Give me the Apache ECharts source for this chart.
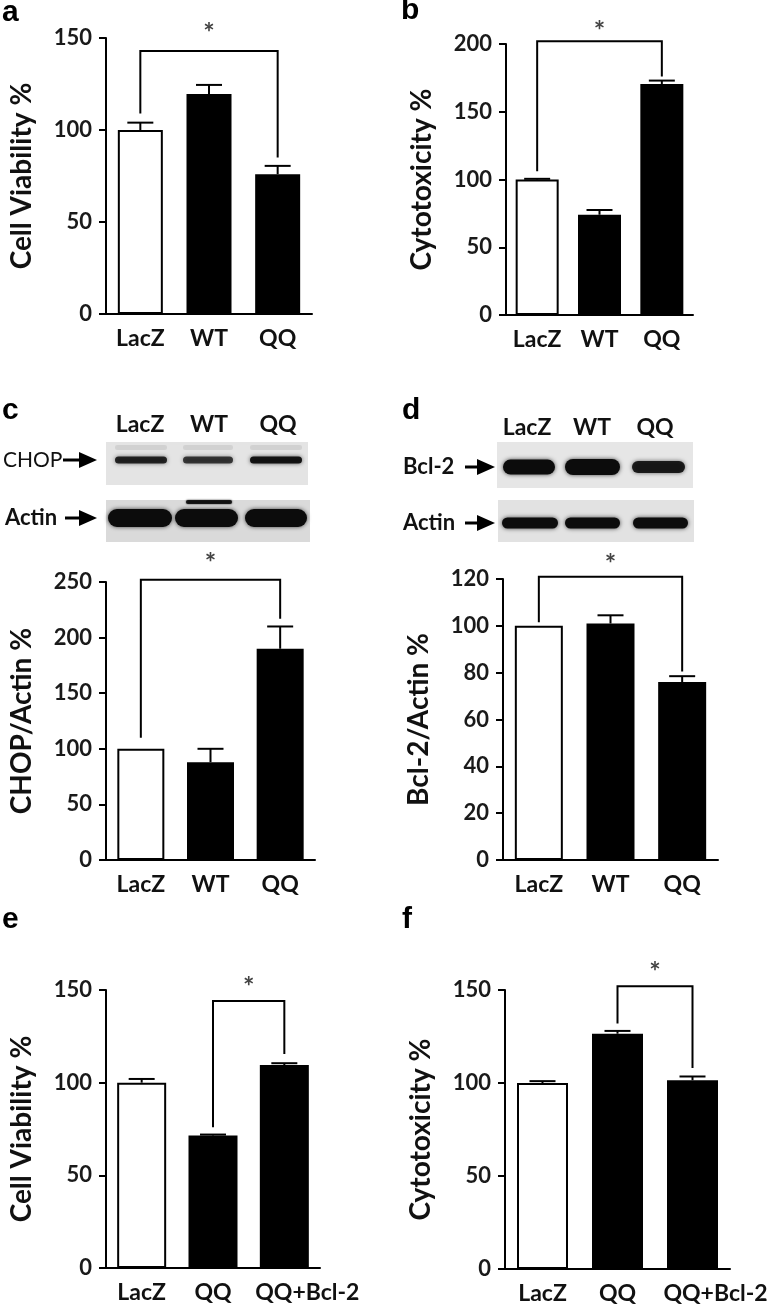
<!DOCTYPE html>
<html>
<head>
<meta charset="utf-8">
<script src="https://cdn.jsdelivr.net/npm/echarts@6/dist/echarts.min.js"></script>
<style>
  html, body { margin: 0; padding: 0; background: #fff; }
  #chart { width: 779px; height: 1316px; }
</style>
</head>
<body>
<div id="chart"></div>
<script>
// categories
const groups3 = ["LacZ", "WT", "QQ"];
const groupsBcl = ["LacZ", "QQ", "QQ+Bcl-2"];

// bar values (mean) and upper error (SEM)
const viabilityA = [100, 119.5, 76];
const viabilityAErr = [4, 5, 4.5];
const cytotoxB = [100, 74, 170.5];
const cytotoxBErr = [0.5, 3.5, 2.5];
const chopActinC = [100, 88, 190];
const chopActinCErr = [0, 12, 20];
const bclActinD = [100, 101, 76];
const bclActinDErr = [0, 3.5, 2.5];
const viabilityE = [100, 71.5, 109.5];
const viabilityEErr = [2, 0.5, 1];
const cytotoxF = [100, 126.5, 101.5];
const cytotoxFErr = [1, 1.5, 2];

// significance brackets: [from, to, top, left leg end, right leg end]
const sigA = [0, 2, 143, 109, 85];
const sigB = [0, 2, 202, 106, 176];
const sigC = [0, 2, 252, 110, 217];
const sigD = [0, 2, 121, 101.5, 80.5];
const sigE = [1, 2, 144, 76, 115.5];
const sigF = [1, 2, 152, 132, 108];

// y axis ticks: [min, max, interval]
const ticksA = [0, 150, 50];
const ticksB = [0, 200, 50];
const ticksC = [0, 250, 50];
const ticksD = [0, 120, 20];
const ticksE = [0, 150, 50];
const ticksF = [0, 150, 50];

// western blot band density per lane
const chopBand = [0.85, 0.75, 0.95];
const actinBandC = [1, 1, 1];
const bclBand = [1, 1, 0.9];
const actinBandD = [1, 1, 1];

const FONT = "Lato";

const panels = [
  { label: "a", cats: groups3, vals: viabilityA, err: viabilityAErr, sig: sigA, ticks: ticksA,
    name: "Cell Viability %", grid: [106, 38, 206, 276], barWidth: 45, starGap: 18 },
  { label: "b", cats: groups3, vals: cytotoxB, err: cytotoxBErr, sig: sigB, ticks: ticksB,
    name: "Cytotoxicity %", grid: [506, 44, 187, 271], barWidth: 43, starGap: 10 },
  { label: "c", cats: groups3, vals: chopActinC, err: chopActinCErr, sig: sigC, ticks: ticksC,
    name: "CHOP/Actin %", grid: [106, 582, 209, 278], barWidth: 47, starGap: 16 },
  { label: "d", cats: groups3, vals: bclActinD, err: bclActinDErr, sig: sigD, ticks: ticksD,
    name: "Bcl-2/Actin %", grid: [503, 579, 215, 281], barWidth: 48, starGap: 12 },
  { label: "e", cats: groupsBcl, vals: viabilityE, err: viabilityEErr, sig: sigE, ticks: ticksE,
    name: "Cell Viability %", grid: [106, 990, 214, 278], barWidth: 49, starGap: 14 },
  { label: "f", cats: groupsBcl, vals: cytotoxF, err: cytotoxFErr, sig: sigF, ticks: ticksF,
    name: "Cytotoxicity %", grid: [505, 990, 225, 279], barWidth: 51, starGap: 14 }
];

const grids = [], xAxes = [], yAxes = [], series = [];

panels.forEach((p, i) => {
  grids.push({ left: p.grid[0], top: p.grid[1], width: p.grid[2], height: p.grid[3] });
  xAxes.push({
    type: "category",
    gridIndex: i,
    data: p.cats.map((c) =>
      c.length > 5 ? { value: c, textStyle: { padding: [0, 0, 0, 46] } } : c
    ),
    axisLine: { lineStyle: { color: "#000", width: 2 } },
    axisTick: { alignWithLabel: true, length: 8, lineStyle: { color: "#000", width: 2 } },
    axisLabel: { interval: 0, margin: 13, color: "#111", fontFamily: FONT, fontWeight: "bold", fontSize: 23 }
  });
  yAxes.push({
    type: "value",
    gridIndex: i,
    min: p.ticks[0],
    max: p.ticks[1],
    interval: p.ticks[2],
    splitLine: { show: false },
    axisLine: { show: true, lineStyle: { color: "#000", width: 2 } },
    axisTick: { show: true, length: 7, lineStyle: { color: "#000", width: 2 } },
    axisLabel: { margin: 14, color: "#1a1a1a", fontFamily: FONT, fontWeight: "bold", fontSize: 22 },
    name: p.name,
    nameLocation: "middle",
    nameGap: 70,
    nameTextStyle: { color: "#111", fontFamily: FONT, fontWeight: "bold", fontSize: 28 }
  });
  series.push({
    type: "bar",
    xAxisIndex: i,
    yAxisIndex: i,
    barWidth: p.barWidth,
    data: p.vals.map((v, k) => ({
      value: v,
      itemStyle: { color: k === 0 ? "#fff" : "#000", borderColor: "#000", borderWidth: 2 }
    })),
    z: 2
  });
  series.push({
    type: "custom",
    xAxisIndex: i,
    yAxisIndex: i,
    data: p.vals.map((v, k) => [k, v, p.err[k]]),
    renderItem: (params, api) => {
      if (api.value(2) <= 0) return null;
      const base = api.coord([api.value(0), api.value(1)]);
      const top = api.coord([api.value(0), api.value(1) + api.value(2)]);
      const st = { stroke: "#000", lineWidth: 2 };
      return {
        type: "group",
        children: [
          { type: "line", shape: { x1: base[0], y1: base[1], x2: top[0], y2: top[1] }, style: st },
          { type: "line", shape: { x1: top[0] - 13, y1: top[1], x2: top[0] + 13, y2: top[1] }, style: st }
        ]
      };
    },
    z: 3
  });
  series.push({
    type: "custom",
    xAxisIndex: i,
    yAxisIndex: i,
    data: [p.sig],
    renderItem: (params, api) => {
      const l = api.coord([api.value(0), api.value(3)]);
      const lt = api.coord([api.value(0), api.value(2)]);
      const rt = api.coord([api.value(1), api.value(2)]);
      const r = api.coord([api.value(1), api.value(4)]);
      return {
        type: "group",
        children: [
          { type: "polyline", shape: { points: [l, lt, rt, r] }, style: { stroke: "#000", lineWidth: 2, fill: null } },
          { type: "text", style: { text: "*", x: (lt[0] + rt[0]) / 2, y: lt[1] - p.starGap, align: "center", verticalAlign: "middle",
            fontFamily: FONT, fontWeight: "bold", fontSize: 27, fill: "#444" } }
        ]
      };
    },
    z: 3
  });
});

// ---- blot pictures (decorative graphic) ----
const graphic = [];

panels.forEach((p, i) => {
  const pos = [[2, 15], [401, 13], [2, 413], [402, 413], [2, 922], [402, 922]][i];
  graphic.push({ type: "text", left: pos[0], top: pos[1] - 17,
    style: { text: p.label, fontFamily: "Liberation Sans", fontWeight: "bold", fontSize: 30, fill: "#000" } });
});

function blot(box, fill, lanes, y, heights, density) {
  graphic.push({ type: "rect", shape: { x: box[0], y: box[1], width: box[2], height: box[3] }, style: { fill: fill } });
  lanes.forEach((ln, k) => {
    const h = Array.isArray(heights) ? heights[k] : heights;
    graphic.push({
      type: "rect",
      shape: { x: ln[0], y: y - h / 2, width: ln[1] - ln[0], height: h, r: h / 2 },
      style: { fill: "rgba(12,12,12," + density[k] + ")", shadowBlur: 4, shadowColor: "rgba(0,0,0," + density[k] * 0.7 + ")" }
    });
  });
}

function arrow(x0, x1, y) {
  graphic.push({ type: "rect", shape: { x: x0, y: y - 1.5, width: x1 - x0 - 14, height: 3 }, style: { fill: "#000" } });
  graphic.push({ type: "polygon", shape: { points: [[x1 - 18, y - 8], [x1, y], [x1 - 18, y + 8]] }, style: { fill: "#000" } });
}

function blotText(text, x, y, align, weight, size) {
  graphic.push({ type: "text", style: { text: text, x: x, y: y, align: align, verticalAlign: "middle",
    fontFamily: FONT, fontWeight: weight, fontSize: size, fill: "#111" } });
}

// panel c
[140, 209, 278].forEach((x, k) => blotText(groups3[k], x, 425, "center", "bold", 23));
blot([106, 442, 202, 43], "#e4e4e4", [[115, 167], [183, 233], [250, 302]], 460, 7, chopBand);
[[115, 167], [183, 233], [250, 302]].forEach((ln) =>
  graphic.push({ type: "rect", shape: { x: ln[0], y: 445, width: ln[1] - ln[0], height: 5, r: 2 },
    style: { fill: "rgba(0,0,0,0.08)", shadowBlur: 4, shadowColor: "rgba(0,0,0,0.1)" } }));
blotText("CHOP", 3, 460, "left", "normal", 21);
arrow(63, 97, 460);
blot([106, 500, 204, 42], "#dadada", [[108, 172], [175, 238], [245, 307]], 518, 18, actinBandC);
graphic.push({ type: "rect", shape: { x: 186, y: 500, width: 46, height: 4, r: 2 },
  style: { fill: "rgba(10,10,10,0.85)", shadowBlur: 2, shadowColor: "#000" } });
blotText("Actin", 5, 518, "left", "bold", 22);
arrow(65, 97, 518);

// panel d
[527, 592, 655].forEach((x, k) => blotText(groups3[k], x, 428, "center", "bold", 23));
blot([497, 442, 196, 46], "#e6e6e6", [[503, 555], [565, 620], [632, 685]], 467, [15, 16, 12], bclBand);
blotText("Bcl-2", 403, 467, "left", "bold", 22);
arrow(465, 495, 467);
blot([498, 500, 196, 42], "#e2e2e2", [[502, 558], [565, 620], [633, 688]], 523, 11, actinBandD);
blotText("Actin", 403, 523, "left", "bold", 22);
arrow(465, 495, 523);

const chart = echarts.init(document.getElementById("chart"));
chart.setOption({
  animation: false,
  backgroundColor: "#fff",
  grid: grids,
  xAxis: xAxes,
  yAxis: yAxes,
  series: series,
  graphic: graphic
});
</script>
</body>
</html>
